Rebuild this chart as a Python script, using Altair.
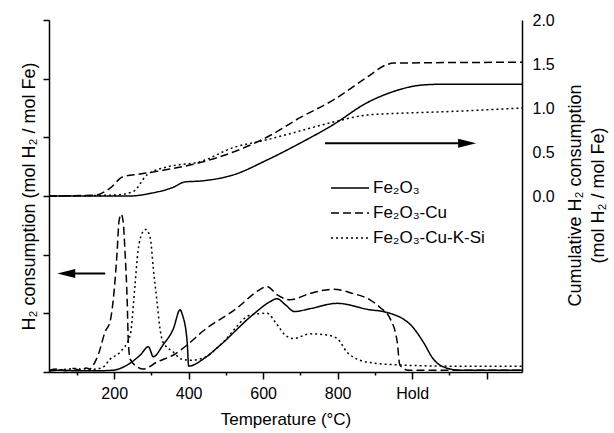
import altair as alt
import pandas as pd

FONT = "Liberation Sans"
series = ["Fe₂O₃", "Fe₂O₃-Cu", "Fe₂O₃-Cu-K-Si"]
dashes = [[1, 0], [8, 4], [2, 3]]

# ---- H2 consumption rate (left axis, arbitrary units 0..6) ----
fe_T = [25, 60, 100, 150, 197, 235, 270, 292, 305, 331, 359, 377, 383, 396, 400, 439,
        485, 573, 619, 637, 659, 684, 726, 799, 887, 922, 995, 1030, 1057, 1083, 1129, 1200, 1295]
fe_v = [0.02, 0.03, 0.02, 0.02, 0.03, 0.12, 0.29, 0.43, 0.26, 0.46, 0.74, 1.06, 0.98, 0.51, 0.10, 0.22,
        0.46, 0.98, 1.20, 1.25, 1.15, 1.03, 1.08, 1.17, 1.06, 1.03, 0.81, 0.51, 0.22, 0.09, 0.03, 0.03, 0.03]

cu_T = [25, 50, 70, 90, 110, 125, 135, 144, 157, 176, 189, 197, 208, 213, 219, 224, 229, 235, 238, 243,
        262, 278, 315, 359, 396, 437, 528, 590, 610, 637, 672, 726, 788, 840, 887, 914, 941, 960, 967,
        990, 1100, 1295]
cu_v = [0.03, 0.05, 0.02, 0.06, 0.03, 0.07, 0.05, 0.12, 0.29, 0.69, 0.86, 1.20, 2.06, 2.57, 2.69, 2.57,
        2.06, 1.20, 0.51, 0.22, 0.09, 0.05, 0.17, 0.29, 0.46, 0.69, 1.08, 1.40, 1.46, 1.32, 1.23, 1.34,
        1.41, 1.34, 1.23, 1.10, 0.91, 0.51, 0.12, 0.03, 0.03, 0.03]

ks_T = [25, 60, 100, 120, 150, 170, 189, 216, 243, 256, 264, 278, 285, 297, 305, 315, 323, 331, 359,
        380, 404, 440, 485, 570, 610, 637, 659, 681, 726, 771, 799, 825, 860, 900, 967, 1100, 1295]
ks_v = [0.02, 0.04, 0.06, 0.03, 0.05, 0.08, 0.22, 0.34, 0.63, 1.49, 2.06, 2.40, 2.43, 2.28, 1.77, 1.20,
        0.74, 0.51, 0.34, 0.22, 0.20, 0.24, 0.46, 0.98, 1.00, 0.81, 0.63, 0.57, 0.65, 0.63, 0.57, 0.34,
        0.20, 0.15, 0.12, 0.10, 0.10]

# ---- cumulative H2 consumption (right axis, mol H2 / mol Fe) ----
cfe_T = [25, 243, 297, 359, 390, 431, 520, 611, 699, 788, 879, 967, 1000, 1040, 1080, 1295]
cfe_v = [0.0, 0.0, 0.03, 0.10, 0.16, 0.17, 0.24, 0.41, 0.60, 0.81, 1.06, 1.21, 1.245, 1.265, 1.27, 1.27]

ccu_T = [25, 150, 189, 224, 270, 342, 431, 520, 611, 699, 788, 879, 930, 950, 1295]
ccu_v = [0.0, 0.01, 0.09, 0.22, 0.25, 0.30, 0.38, 0.50, 0.67, 0.89, 1.09, 1.35, 1.49, 1.51, 1.52]

cks_T = [25, 200, 251, 288, 342, 431, 520, 611, 691, 788, 879, 967, 1100, 1295]
cks_v = [0.0, 0.01, 0.05, 0.24, 0.33, 0.39, 0.55, 0.64, 0.73, 0.84, 0.92, 0.94, 0.96, 1.0]

# arrows: [tail, head-centre] in °C, level in axis units
arrow_left_T = [176, 74]
arrow_left_v = 1.68
arrow_right_T = [766, 1145]
arrow_right_v = 0.60


def frame(pairs):
    rows = []
    for name, T, v in pairs:
        assert len(T) == len(v)
        rows += [{"T": t, "v": y, "s": name} for t, y in zip(T, v)]
    return pd.DataFrame(rows)


low_df = frame([(series[0], fe_T, fe_v), (series[1], cu_T, cu_v), (series[2], ks_T, ks_v)])
up_df = frame([(series[0], cfe_T, cfe_v), (series[1], ccu_T, ccu_v), (series[2], cks_T, cks_v)])

la_df = pd.DataFrame({"T": [arrow_left_T[0]], "T2": [arrow_left_T[1]], "v": [arrow_left_v]})
lh_df = pd.DataFrame({"T": [arrow_left_T[1]], "v": [arrow_left_v]})
ra_df = pd.DataFrame({"T": [arrow_right_T[0]], "T2": [arrow_right_T[1]], "v": [arrow_right_v]})
rh_df = pd.DataFrame({"T": [arrow_right_T[1]], "v": [arrow_right_v]})

W, H = 473, 352

xscale = alt.Scale(domain=[25, 1295], nice=False, zero=False)
xaxis = alt.Axis(
    values=list(range(100, 1300, 100)),
    labelExpr="datum.value == 1000 ? 'Hold' : ((datum.value % 200 == 0 && datum.value < 1000) ? datum.label : '')",
    tickSize={"condition": {"test": "datum.value % 200 == 0", "value": 7}, "value": 3},
    labelPadding=6,
    title="Temperature (°C)",
    titleBaseline="alphabetic",
    titleY=52,
)

yl_scale = alt.Scale(domain=[0, 6], nice=False, zero=False)
yl_axis = alt.Axis(
    orient="left", values=[0, 1, 2, 3, 4, 5, 6], labels=False, tickSize=6,
    title="H₂ consumption (mol H₂ / mol Fe)", titleAngle=270, titleAlign="center",
    titleBaseline="alphabetic", titleX=-15, titleY=176, titleFontSize=18,
)

right_vals = [-2 + 0.25 * i for i in range(17)]
yr_scale = alt.Scale(domain=[-2, 2], nice=False, zero=False)
# labels + domain line on the right
yr_axis = alt.Axis(
    orient="right", values=right_vals,
    labelExpr="(datum.value >= 0 && datum.value * 2 == round(datum.value * 2)) ? format(datum.value, '.1f') : ''",
    ticks=False, labelPadding=10,
    title=["Cumulative H₂ consumption", "(mol H₂ / mol Fe)"], titleAngle=270, titleAlign="center",
    titleBaseline="alphabetic", titleX=58, titleY=175, titleLineHeight=23, titleFontSize=18,
)
# inward-pointing ticks drawn at the right edge
yr_ticks = alt.Axis(
    orient="left", position=W, values=right_vals, labels=False, domain=False, title=None,
    tickSize={"condition": {"test": "datum.value * 2 == round(datum.value * 2)", "value": 4}, "value": 2},
)

sdash = alt.StrokeDash(
    "s:N", sort=series, scale=alt.Scale(domain=series, range=dashes),
    legend=alt.Legend(title=None, orient="none", legendX=281, legendY=158),
)

X = alt.X("T:Q", scale=xscale, axis=xaxis)
lines_low = alt.Chart(low_df).mark_line(color="black", strokeWidth=1.5, interpolate="monotone").encode(
    x=X, y=alt.Y("v:Q", scale=yl_scale, axis=yl_axis), strokeDash=sdash)
arrow_low = alt.Chart(la_df).mark_rule(color="black", strokeWidth=2).encode(
    x=X, x2="T2:Q", y=alt.Y("v:Q", scale=yl_scale, axis=yl_axis))
head_low = alt.Chart(lh_df).mark_point(
    shape="M -1 0 L 0.8 -0.45 L 0.8 0.45 Z", size=400, filled=True, color="black", opacity=1, strokeWidth=0
).encode(x=X, y=alt.Y("v:Q", scale=yl_scale, axis=yl_axis))

lines_up = alt.Chart(up_df).mark_line(color="black", strokeWidth=1.5, interpolate="monotone").encode(
    x=X, y=alt.Y("v:Q", scale=yr_scale, axis=yr_axis), strokeDash=sdash)
arrow_up = alt.Chart(ra_df).mark_rule(color="black", strokeWidth=2).encode(
    x=X, x2="T2:Q", y=alt.Y("v:Q", scale=yr_scale, axis=yr_ticks))
head_up = alt.Chart(rh_df).mark_point(
    shape="M 1 0 L -0.8 -0.45 L -0.8 0.45 Z", size=400, filled=True, color="black", opacity=1, strokeWidth=0
).encode(x=X, y=alt.Y("v:Q", scale=yr_scale, axis=None))

lower = alt.layer(lines_low, arrow_low, head_low)
upper = alt.layer(lines_up, arrow_up, head_up).resolve_axis(y="independent")

chart = alt.layer(lower, upper).resolve_scale(y="independent").properties(
    width=W, height=H,
    autosize=alt.AutoSizeParams(type="none"),
    padding={"left": 49, "top": 20, "right": 92, "bottom": 61},
    background="white",
).configure_view(stroke=None).configure_axis(
    grid=False, domainColor="black", domainWidth=1.5, tickColor="black", tickWidth=1.5,
    labelFont=FONT, labelFontSize=16, labelColor="black",
    titleFont=FONT, titleFontSize=17, titleColor="black", titleFontWeight="normal",
).configure_legend(
    symbolType="stroke", symbolSize=1444, symbolStrokeWidth=1.5, symbolStrokeColor="black",
    labelFont=FONT, labelFontSize=17, labelColor="black", labelOffset=3,
    clipHeight=20, rowPadding=5, padding=0,
)

chart.save("out.html", embed_options={"renderer": "svg", "actions": False})
